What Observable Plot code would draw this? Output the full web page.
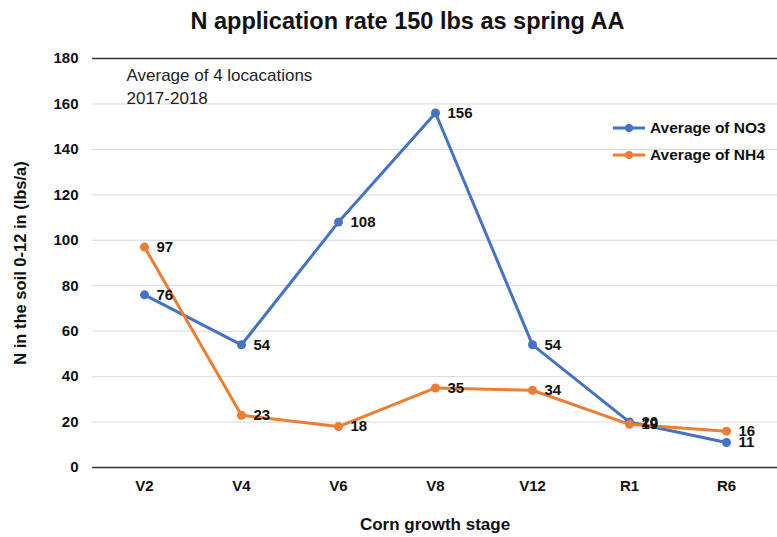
<!DOCTYPE html>
<html><head><meta charset="utf-8">
<script src="https://cdn.jsdelivr.net/npm/d3@7"></script>
<script src="https://cdn.jsdelivr.net/npm/@observablehq/plot@0.6"></script>
<style>
body{margin:0;background:#fff;font-family:"Liberation Sans",Arial,sans-serif;}
#wrap{position:relative;width:777px;height:537px;overflow:hidden;}
#title{height:40px;line-height:42px;text-align:center;font-weight:bold;font-size:23.5px;color:#111;padding-left:38px;box-sizing:border-box;}
#legend{position:absolute;left:612px;top:114px;font-weight:bold;font-size:15.5px;color:#111;}
#legend div{display:flex;align-items:center;height:27px;}
#legend svg{margin-right:4px;}
</style></head>
<body>
<div id="wrap">
<div id="title">N application rate 150 lbs as spring AA</div>
<div id="chart"></div>
<div id="legend"></div>
</div>
<script>
const stages = ["V2","V4","V6","V8","V12","R1","R6"];
const no3 = [76,54,108,156,54,20,11];
const nh4 = [97,23,18,35,34,19,16];
const seriesNames = ["Average of NO3","Average of NH4"];
const colors = ["#4472C4","#ED7D31"];
const yTicks = [0,20,40,60,80,100,120,140,160,180];
const gridTicks = [20,40,60,80,100,120,140,160];
const note = "Average of 4 locacations\n2017-2018";

const data = [];
stages.forEach((s,i)=>{
  data.push({stage:s, value:no3[i], series:seriesNames[0]});
  data.push({stage:s, value:nh4[i], series:seriesNames[1]});
});

const plot = Plot.plot({
  width:777, height:497,
  marginLeft:92, marginRight:0, marginTop:18, marginBottom:70,
  style:{fontFamily:"'Liberation Sans',Arial,sans-serif", fontSize:"15px", fontWeight:"bold", color:"#111", background:"#fff"},
  x:{type:"point", domain:stages, padding:0.5},
  y:{domain:[0,180]},
  color:{domain:seriesNames, range:colors},
  marks:[
    Plot.gridY(gridTicks,{stroke:"#d9d9d9", strokeOpacity:1, strokeWidth:1}),
    Plot.ruleY([0,180],{stroke:"#333", strokeWidth:1.5}),
    Plot.ruleX([0],{frameAnchor:"left", stroke:"#333", strokeWidth:1.5}),
    Plot.axisY({ticks:yTicks, tickSize:0, tickPadding:14, fontSize:15, label:null}),
    Plot.axisY({ticks:[], tickSize:0, fontSize:16.5, label:"N in the soil 0-12 in (lbs/a)", labelAnchor:"center", labelArrow:"none", labelOffset:78}),
    Plot.axisX({tickSize:0, tickPadding:13, fontSize:15, label:null}),
    Plot.axisX({ticks:[], tickSize:0, fontSize:17, label:"Corn growth stage", labelAnchor:"center", labelArrow:"none", labelOffset:62}),
    Plot.text([note],{frameAnchor:"top-left", dx:34, dy:6, textAnchor:"start", lineAnchor:"top", fontWeight:"normal", fontSize:17, fill:"#222", lineHeight:1.35}),
    Plot.line(data,{x:"stage", y:"value", stroke:"series", strokeWidth:3}),
    Plot.dot(data,{x:"stage", y:"value", fill:"series", r:4.5}),
    Plot.text(data,{x:"stage", y:"value", text:d=>String(d.value), dx:12, textAnchor:"start", fill:"#111", fontSize:15})
  ]
});
document.getElementById("chart").appendChild(plot);

const leg = document.getElementById("legend");
seriesNames.forEach((n,i)=>{
  const row = document.createElement("div");
  row.innerHTML = `<svg width="34" height="10"><line x1="1" y1="5" x2="33" y2="5" stroke="${colors[i]}" stroke-width="3"/><circle cx="17" cy="5" r="4" fill="${colors[i]}"/></svg><span>${n}</span>`;
  leg.appendChild(row);
});
</script>
</body></html>
